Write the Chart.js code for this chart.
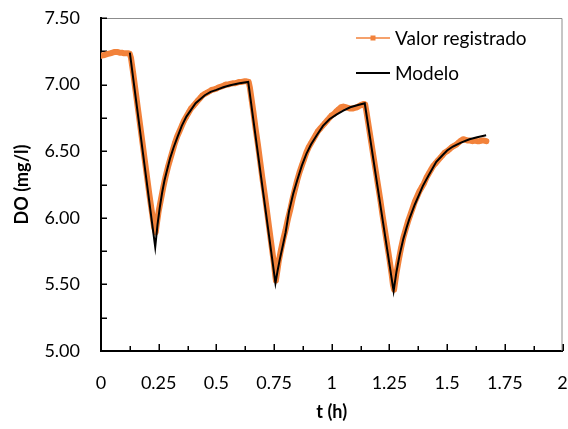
<!DOCTYPE html>
<html>
<head>
<meta charset="utf-8">
<script src="https://cdn.jsdelivr.net/npm/chart.js@4.4.1/dist/chart.umd.min.js"></script>
<style>
html,body{margin:0;padding:0;background:#fff;}
#wrap{width:568px;height:429px;position:relative;}
</style>
</head>
<body>
<div id="wrap"><canvas id="c" width="568" height="429"></canvas></div>
<script>
// ---- data ----
const seriesNames = ["Valor registrado", "Modelo"];

const tRegistrado = [
0,0.005,0.01,0.02,0.03,0.04,0.05,0.06,0.07,0.08,0.09,0.10,0.11,0.12,0.125,
0.13,0.14,0.15,0.16,0.17,0.18,0.19,0.20,0.21,0.22,0.23,0.237,
0.24,0.245,0.25,0.26,0.27,0.28,0.29,0.30,0.31,0.32,0.33,0.34,0.35,0.36,0.37,0.38,0.39,0.40,
0.41,0.42,0.43,0.44,0.45,0.46,0.47,0.48,0.49,0.50,0.51,0.52,0.53,0.54,0.55,0.56,0.57,0.58,
0.59,0.60,0.61,0.62,0.63,0.64,
0.645,0.65,0.66,0.67,0.68,0.69,0.70,0.71,0.72,0.73,0.74,0.75,0.755,0.758,
0.765,0.77,0.78,0.79,0.80,0.81,0.82,0.83,0.84,0.85,0.86,0.87,0.88,0.89,0.90,0.91,0.92,0.93,
0.94,0.95,0.96,0.97,0.98,0.99,1.00,1.01,1.02,1.03,1.04,1.05,1.06,1.07,1.08,1.09,1.10,1.11,
1.12,1.13,1.14,1.145,
1.15,1.16,1.17,1.18,1.19,1.20,1.21,1.22,1.23,1.24,1.25,1.26,1.265,1.27,
1.275,1.28,1.29,1.30,1.31,1.32,1.33,1.34,1.35,1.36,1.37,1.38,1.39,1.40,1.41,1.42,1.43,1.44,
1.45,1.46,1.47,1.48,1.49,1.50,1.51,1.52,1.53,1.54,1.55,1.56,1.57,1.58,1.59,1.60,1.61,1.62,
1.63,1.64,1.65,1.66,1.67
];
const vRegistrado = [
7.215,7.22,7.22,7.225,7.23,7.235,7.24,7.245,7.245,7.24,7.24,7.235,7.235,7.235,7.23,
7.20,7.08,6.95,6.82,6.69,6.56,6.43,6.30,6.17,6.05,5.93,5.89,
5.93,5.99,6.05,6.14,6.23,6.31,6.38,6.44,6.50,6.56,6.61,6.65,6.69,6.73,6.76,6.79,6.82,6.84,
6.86,6.88,6.90,6.92,6.93,6.94,6.95,6.96,6.965,6.97,6.98,6.985,6.99,7.00,7.00,7.005,7.01,7.01,
7.015,7.02,7.02,7.025,7.025,7.02,
6.98,6.92,6.80,6.67,6.55,6.42,6.29,6.17,6.04,5.91,5.78,5.65,5.57,5.53,
5.61,5.67,5.76,5.84,5.91,5.99,6.06,6.14,6.21,6.28,6.34,6.39,6.44,6.49,6.53,6.56,6.59,6.62,
6.65,6.67,6.69,6.71,6.73,6.75,6.77,6.78,6.80,6.815,6.83,6.835,6.83,6.825,6.82,6.82,6.825,6.83,
6.84,6.85,6.855,6.85,
6.80,6.69,6.58,6.47,6.36,6.25,6.14,6.02,5.91,5.80,5.69,5.57,5.50,5.46,
5.52,5.58,5.68,5.77,5.85,5.91,5.97,6.02,6.07,6.12,6.16,6.20,6.23,6.26,6.30,6.33,6.36,6.39,
6.41,6.43,6.45,6.47,6.49,6.50,6.515,6.53,6.54,6.55,6.565,6.58,6.59,6.585,6.58,6.58,6.575,6.58,
6.575,6.575,6.58,6.58,6.575
];

const tModelo = [
0.125,0.235,0.245,0.255,0.265,0.275,0.285,0.300,0.315,0.330,0.350,0.370,0.390,0.410,0.430,
0.450,0.475,0.500,0.530,0.560,0.600,0.638,
0.756,0.765,0.775,0.789,0.800,0.815,0.833,0.850,0.870,0.890,0.910,0.935,0.962,0.990,1.020,
1.050,1.080,1.110,1.143,
1.268,1.280,1.294,1.310,1.325,1.338,1.360,1.380,1.395,1.420,1.453,1.480,1.500,1.525,1.560,
1.597,1.630,1.669
];
const vModelo = [
7.24,5.78,5.95,6.08,6.19,6.28,6.35,6.45,6.53,6.60,6.69,6.76,6.81,6.86,6.89,
6.92,6.945,6.96,6.98,6.995,7.01,7.02,
5.51,5.60,5.69,5.80,5.89,6.05,6.18,6.28,6.39,6.48,6.55,6.62,6.69,6.74,6.775,
6.805,6.83,6.845,6.86,
5.45,5.59,5.72,5.84,5.93,6.00,6.10,6.18,6.24,6.32,6.42,6.47,6.505,6.535,6.565,
6.59,6.605,6.62
];

const xTickValues = [0,0.25,0.5,0.75,1,1.25,1.5,1.75,2];
const xTickLabels = ["0","0.25","0.5","0.75","1","1.25","1.5","1.75","2"];
const yTickValues = [5,5.5,6,6.5,7,7.5];
const yTickLabels = ["5.00","5.50","6.00","6.50","7.00","7.50"];
const xTitle = "t (h)";
const yTitle = "DO (mg/l)";

// ---- styles ----
const ORANGE = "#F2823B";
const FONT = "Lato, 'Open Sans', sans-serif";

const toXY = (ts, vs) => ts.map((t, i) => ({x: t, y: vs[i]}));

const noPad = (s) => { s.paddingLeft = 0; s.paddingRight = 0; s.paddingTop = 0; s.paddingBottom = 0; };

const insideTicks = {
  id: 'insideTicks',
  beforeDatasetsDraw(chart) {
    const {ctx, chartArea: a, scales: {x, y}} = chart;
    ctx.save();
    ctx.strokeStyle = '#8c8c8c';
    ctx.lineWidth = 1;
    ctx.beginPath();
    ctx.moveTo(a.left, a.top + 0.5);
    ctx.lineTo(a.right - 0.5, a.top + 0.5);
    ctx.lineTo(a.right - 0.5, a.bottom);
    ctx.stroke();
    ctx.strokeStyle = '#000';
    ctx.lineWidth = 1.5;
    ctx.beginPath();
    for (let k = 0; k <= 10; k++) {
      const v = y.min + k * (y.max - y.min) / 10;
      const py = Math.round(y.getPixelForValue(v)) + 0.25;
      ctx.moveTo(a.left, py);
      ctx.lineTo(a.left + 6, py);
    }
    for (let k = 0; k <= 16; k++) {
      const v = x.min + k * (x.max - x.min) / 16;
      const px = Math.round(x.getPixelForValue(v)) + 0.25;
      const len = (k % 2 === 0) ? 7 : 5;
      ctx.moveTo(px, a.bottom);
      ctx.lineTo(px, a.bottom - len);
    }
    ctx.stroke();
    ctx.restore();
  }
};

const innerLegend = {
  id: 'innerLegend',
  afterDraw(chart) {
    const {ctx} = chart;
    const ds = chart.data.datasets;
    ctx.save();
    ctx.font = "19px " + FONT;
    ctx.textBaseline = 'middle';
    ctx.textAlign = 'left';
    const x0 = 356, x1 = 390, tx = 395;
    const rows = [38, 73];
    ds.forEach((d, i) => {
      const yy = rows[i];
      ctx.strokeStyle = d.borderColor;
      ctx.lineWidth = d.legendLineWidth;
      ctx.beginPath();
      ctx.moveTo(x0, yy);
      ctx.lineTo(x1, yy);
      ctx.stroke();
      if (d.legendMarker) {
        ctx.fillStyle = d.borderColor;
        ctx.fillRect((x0 + x1) / 2 - 2.5, yy - 2.5, 5, 5);
      }
      ctx.fillStyle = '#000';
      ctx.fillText(d.label, tx, yy + 1);
    });
    ctx.restore();
  }
};

function build() {
  new Chart(document.getElementById('c'), {
    type: 'line',
    data: {
      datasets: [
        {
          label: seriesNames[0],
          data: toXY(tRegistrado, vRegistrado),
          borderColor: ORANGE,
          backgroundColor: ORANGE,
          borderWidth: 6,
          borderJoinStyle: 'round',
          borderCapStyle: 'round',
          pointStyle: 'rect',
          pointRadius: 3,
          pointBorderWidth: 0,
          tension: 0,
          order: 1,
          legendMarker: true,
          legendLineWidth: 1.5
        },
        {
          label: seriesNames[1],
          data: toXY(tModelo, vModelo),
          borderColor: '#000',
          backgroundColor: '#000',
          borderWidth: 2,
          pointRadius: 0,
          tension: 0,
          order: 0,
          legendMarker: false,
          legendLineWidth: 2
        }
      ]
    },
    options: {
      responsive: false,
      animation: false,
      devicePixelRatio: 1,
      layout: {padding: {top: 18, right: 5.5, left: 0, bottom: 0}},
      plugins: {legend: {display: false}, tooltip: {enabled: false}},
      scales: {
        x: {
          type: 'linear',
          min: 0, max: 2,
          afterFit(s) { s.height = 78; noPad(s); },
          afterBuildTicks(s) { s.ticks = xTickValues.map(v => ({value: v})); },
          ticks: {
            callback: (v) => { const i = xTickValues.indexOf(v); return i >= 0 ? xTickLabels[i] : ''; },
            color: '#000', font: {family: FONT, size: 18}, padding: 21, maxRotation: 0, autoSkip: false
          },
          grid: {display: true, drawOnChartArea: false, drawTicks: false},
          border: {display: true, color: '#000', width: 2},
          title: {display: true, text: xTitle, color: '#000', font: {family: FONT, size: 18, weight: 'bold'}, padding: {top: 0, bottom: 6}}
        },
        y: {
          type: 'linear',
          min: 5, max: 7.5,
          afterFit(s) { s.width = 101; noPad(s); },
          afterBuildTicks(s) { s.ticks = yTickValues.map(v => ({value: v})); },
          ticks: {
            callback: (v) => { const i = yTickValues.indexOf(v); return i >= 0 ? yTickLabels[i] : ''; },
            color: '#000', font: {family: FONT, size: 18}, padding: 21
          },
          grid: {display: true, drawOnChartArea: false, drawTicks: false},
          border: {display: true, color: '#000', width: 2},
          title: {display: true, text: yTitle, color: '#000', font: {family: FONT, size: 18, weight: 'bold'}, padding: {top: 11, bottom: 0}}
        }
      }
    },
    plugins: [insideTicks, innerLegend]
  });
}

if (document.fonts && document.fonts.load) {
  Promise.all([document.fonts.load("18px Lato"), document.fonts.load("bold 18px Lato")]).then(build, build);
} else { build(); }
</script>
</body>
</html>
